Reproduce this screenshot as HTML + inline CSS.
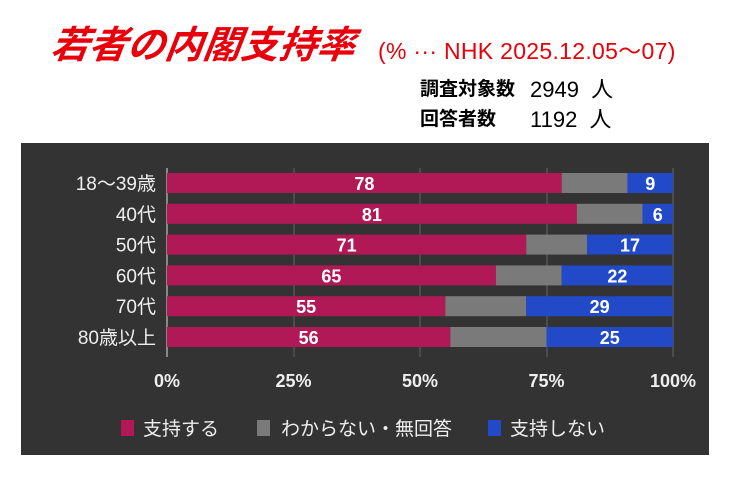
<!DOCTYPE html>
<html><head><meta charset="utf-8"><style>
body{margin:0;width:735px;height:477px;background:#fff;position:relative;overflow:hidden;font-family:"Liberation Sans","Noto Sans CJK JP",sans-serif}
.t{position:absolute;white-space:nowrap}
</style></head><body>
<div class="t" style="left:52px;top:14px;font-size:38px;font-weight:bold;font-style:italic;color:#e8000b;transform:skewX(-8deg)">若者の内閣支持率</div>
<div class="t" style="left:378px;top:32px;font-size:23px;color:#e8000b;letter-spacing:0.3px">(% ··· NHK 2025.12.05～07)</div>
<div class="t" style="left:420px;top:74px;font-size:19px;font-weight:bold;color:#000">調査対象数</div>
<div class="t" style="left:530px;top:72px;font-size:22px;color:#000;white-space:pre">2949  人</div>
<div class="t" style="left:420px;top:104px;font-size:19px;font-weight:bold;color:#000">回答者数</div>
<div class="t" style="left:530px;top:102px;font-size:22px;color:#000;white-space:pre">1192  人</div>
<svg style="position:absolute;left:0;top:0" width="735" height="477">
<rect x="21" y="143" width="688" height="312" fill="#333"/>
<g stroke="#666" stroke-width="1">
<line x1="294" y1="168" x2="294" y2="357"/><line x1="420" y1="168" x2="420" y2="357"/><line x1="547" y1="168" x2="547" y2="357"/><line x1="673" y1="168" x2="673" y2="357"/>
</g>
<line x1="167" y1="168" x2="167" y2="357" stroke="#ddd"/>
<g font-family="Liberation Sans,Noto Sans CJK JP,sans-serif" font-weight="bold" font-size="18" fill="#fff" text-anchor="middle">
<g id="bars"></g>
</g>
</svg>
<script>
var d=[["18～39歳",78,91,9],["40代",81,94,6],["50代",71,83,17],["60代",65,78,22],["70代",55,71,29],["80歳以上",56,75,25]];
var x0=167,w=506,s="";
d.forEach(function(r,i){var y=173+i*30.8;
var a=x0+w*r[1]/100,b=x0+w*r[2]/100;
s+='<rect x="'+x0+'" y="'+y+'" width="'+(a-x0)+'" height="20" fill="#b01955"/>';
s+='<rect x="'+a+'" y="'+y+'" width="'+(b-a)+'" height="20" fill="#7a7a7a"/>';
s+='<rect x="'+b+'" y="'+y+'" width="'+(x0+w-b)+'" height="20" fill="#2249c7"/>';
s+='<text x="'+(x0+a)/2+'" y="'+(y+17)+'">'+r[1]+'</text>';
s+='<text x="'+(b+x0+w)/2+'" y="'+(y+17)+'">'+r[3]+'</text>';
s+='<text x="156" y="'+(y+17)+'" text-anchor="end" font-weight="normal" font-size="19" fill="#eee">'+r[0]+'</text>';
});
["0%","25%","50%","75%","100%"].forEach(function(t,i){s+='<text x="'+(x0+w*i/4)+'" y="387" fill="#eee">'+t+'</text>';});
s+='<rect x="121" y="420" width="13" height="16" fill="#b01955"/><text x="143" y="435" text-anchor="start" font-weight="normal" font-size="19" fill="#eee">支持する</text>';
s+='<rect x="257" y="420" width="13" height="16" fill="#7a7a7a"/><text x="281" y="435" text-anchor="start" font-weight="normal" font-size="19" fill="#eee">わからない・無回答</text>';
s+='<rect x="488" y="420" width="13" height="16" fill="#2249c7"/><text x="510" y="435" text-anchor="start" font-weight="normal" font-size="19" fill="#eee">支持しない</text>';
document.getElementById("bars").innerHTML=s;
</script>
</body></html>
